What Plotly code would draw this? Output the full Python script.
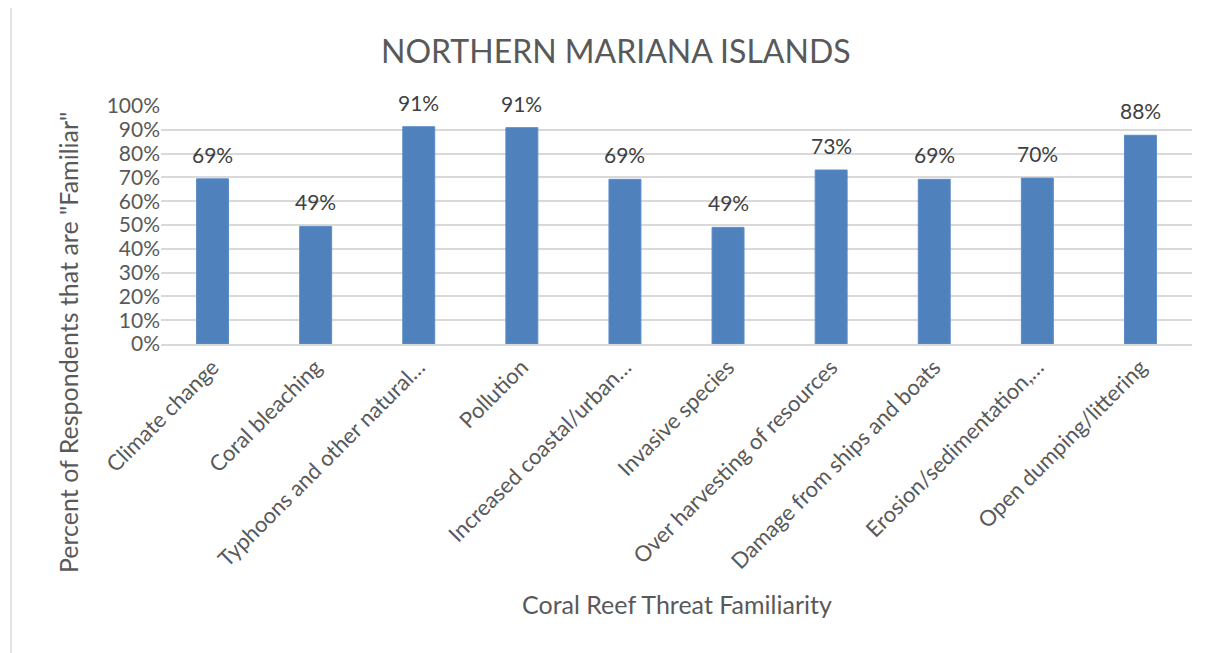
import plotly.graph_objects as go

categories = [
    "Climate change",
    "Coral bleaching",
    "Typhoons and other natural…",
    "Pollution",
    "Increased coastal/urban…",
    "Invasive species",
    "Over harvesting of resources",
    "Damage from ships and boats",
    "Erosion/sedimentation,…",
    "Open dumping/littering",
]
values = [0.694, 0.494, 0.913, 0.909, 0.692, 0.49, 0.731, 0.692, 0.697, 0.877]
tick_vals = [i / 10 for i in range(11)]
tick_text = [f"{i * 10}%" for i in range(11)]

FONT = "Lato"
TXT = "#595959"

fig = go.Figure()
fig.add_trace(go.Bar(
    x=categories, y=values,
    marker=dict(color="#4F81BD", line=dict(color="#5B8CC8", width=1)),
    width=0.31,
    hoverinfo="skip",
))

for c, v in zip(categories, values):
    fig.add_annotation(
        x=c, y=v, xref="x", yref="y",
        text=f"{round(v * 100)}%", showarrow=False,
        yanchor="bottom", yshift=10,
        font=dict(family=FONT, size=21, color="#404040"),
    )

# title
fig.add_annotation(
    x=0.441, y=1.235, xref="paper", yref="paper",
    text="NORTHERN MARIANA ISLANDS", showarrow=False,
    xanchor="center", yanchor="middle",
    font=dict(family=FONT, size=32, color=TXT),
)
# y-axis title
fig.add_annotation(
    x=-0.0902, y=0.004, xref="paper", yref="paper",
    text='Percent of Respondents that are "Familiar"', showarrow=False,
    textangle=-90, xanchor="center", yanchor="middle",
    font=dict(family=FONT, size=25, color=TXT),
)
# x-axis title
fig.add_annotation(
    x=0.5, y=-1.092, xref="paper", yref="paper",
    text="Coral Reef Threat Familiarity", showarrow=False,
    xanchor="center", yanchor="middle",
    font=dict(family=FONT, size=25, color=TXT),
)

# chart border (right side runs off the picture)
fig.add_shape(
    type="rect", xref="paper", yref="paper",
    x0=-0.1455, x1=1.05, y0=-1.36, y1=1.416,
    line=dict(color="#D9D9D9", width=1.5), layer="below",
)

fig.update_layout(
    width=1209, height=653,
    margin=dict(l=153, r=25, t=98, b=317),
    paper_bgcolor="white", plot_bgcolor="white",
    showlegend=False,
    xaxis=dict(
        tickangle=-45, showgrid=False, showline=True, linecolor="#D9D9D9",
        linewidth=1.5, ticks="", tickfont=dict(family=FONT, size=22, color=TXT),
        fixedrange=True,
    ),
    yaxis=dict(
        range=[0, 1], tickvals=tick_vals, ticktext=tick_text,
        showgrid=True, gridcolor="#D9D9D9", gridwidth=1.5,
        zeroline=False, ticks="", ticklen=0,
        tickfont=dict(family=FONT, size=21, color=TXT),
        fixedrange=True,
    ),
)

fig.write_html("out.html")
